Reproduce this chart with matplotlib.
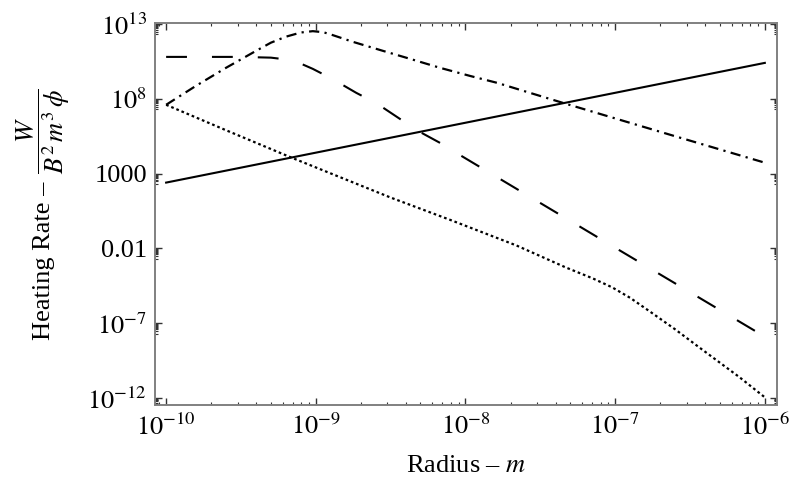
import numpy as np
import matplotlib
matplotlib.use("Agg")
import matplotlib.pyplot as plt
from matplotlib.ticker import FixedLocator, LogLocator, NullFormatter

plt.rcParams['font.family'] = 'serif'
plt.rcParams['font.serif'] = ['Liberation Serif', 'DejaVu Serif']
plt.rcParams['mathtext.fontset'] = 'stix'

# values, as log10(radius / m) and log10(rate)
solid_logx = [-10.0, -6.0]
solid_logy = [2.4, 10.4]

dashdot_logx = [-10.0, -9.8, -9.6, -9.4, -9.3, -9.2, -9.1, -9.02, -8.95, -8.9,
                -8.75, -8.55, -8.37, -8.17, -7.97, -7.79, -7.34, -6.6, -6.0]
dashdot_logy = [7.6, 8.87, 10.07, 11.2, 11.75, 12.15, 12.43, 12.52, 12.45, 12.3,
                11.8, 11.2, 10.67, 10.07, 9.53, 9.07, 7.7, 5.5, 3.73]

dashed_logx = [-10.0, -9.5, -9.3, -9.19, -9.1, -9.02, -8.89, -8.73, -8.59, -8.44,
               -8.32, -8.16, -8.03, -7.0, -6.0]
dashed_logy = [10.8, 10.8, 10.75, 10.62, 10.35, 10.0, 9.33, 8.4, 7.67, 6.67,
               5.87, 5.0, 4.2, -1.95, -7.9]

dotted_logx = [-10.0, -9.6, -9.17, -8.5, -8.1, -7.66, -7.33, -7.15, -7.02, -6.9,
               -6.77, -6.6, -6.44, -6.17, -6.0]
dotted_logy = [7.6, 5.9, 4.1, 1.4, -0.1, -1.8, -3.27, -4.0, -4.6, -5.3,
               -6.2, -7.4, -8.6, -10.6, -11.95]

ytick_exps = [-12, -7, -2, 3, 8, 13]
ytick_labels = [r'$10^{-12}$', r'$10^{-7}$', '0.01', '1000', r'$10^{8}$', r'$10^{13}$']
xtick_exps = [-10, -9, -8, -7, -6]
xtick_labels = [r'$10^{-10}$', r'$10^{-9}$', r'$10^{-8}$', r'$10^{-7}$', r'$10^{-6}$']


def to_val(exps):
    return 10.0 ** np.array(exps)


fig = plt.figure(figsize=(8.0, 4.84), dpi=100)
ax = fig.add_axes([0.194, 0.163, 0.777, 0.789])

ax.plot(to_val(solid_logx), to_val(solid_logy), color='black', lw=1.5)
ax.plot(to_val(dashdot_logx), to_val(dashdot_logy), color='black', lw=1.6,
        dashes=(4.6, 2.4, 1.0, 2.4))
ax.plot(to_val(dashed_logx), to_val(dashed_logy), color='black', lw=1.5,
        dashes=(10, 12))
ax.plot(to_val(dotted_logx), to_val(dotted_logy), color='black', lw=1.6,
        dashes=(1.2, 1.3))

ax.set_xscale('log')
ax.set_yscale('log')
ax.set_xlim(10 ** -10.073, 10 ** -5.92)
ax.set_ylim(10 ** -12.47, 10 ** 13.05)

ax.xaxis.set_major_locator(FixedLocator(to_val(xtick_exps)))
ax.set_xticklabels(xtick_labels)
ax.xaxis.set_minor_locator(LogLocator(base=10, subs=np.arange(2, 10), numticks=50))
ax.xaxis.set_minor_formatter(NullFormatter())

ax.yaxis.set_major_locator(FixedLocator(to_val(ytick_exps)))
ax.set_yticklabels(ytick_labels)
ymin = [k * 10.0 ** (e - 1) for e in ytick_exps for k in range(2, 10)]
ax.yaxis.set_minor_locator(FixedLocator(ymin))
ax.yaxis.set_minor_formatter(NullFormatter())

ax.tick_params(which='both', direction='in', top=True, right=True,
               color='#333333', labelsize=19)
ax.tick_params(which='major', length=5, width=1.0)
ax.tick_params(which='minor', length=2.5, width=0.8)
ax.tick_params(axis='x', which='major', pad=6)
ax.tick_params(axis='y', which='major', pad=6)

for sp in ax.spines.values():
    sp.set_color('#808080')
    sp.set_linewidth(1.4)

ax.set_xlabel(r'Radius – $m$', fontsize=19)
ax.xaxis.set_label_coords(0.5, -0.13)

# y label in two parts so the words sit centred on the fraction bar
fig.text(44 / 800, 1 - 261 / 484, 'Heating Rate –', rotation=90,
         ha='center', va='center', fontsize=19)
fig.text(43 / 800, 1 - 131 / 484, r'$\dfrac{W}{B^2\,m^3\,\phi}$', rotation=90,
         ha='center', va='center', fontsize=19)

fig.savefig('out.png', dpi=100)
